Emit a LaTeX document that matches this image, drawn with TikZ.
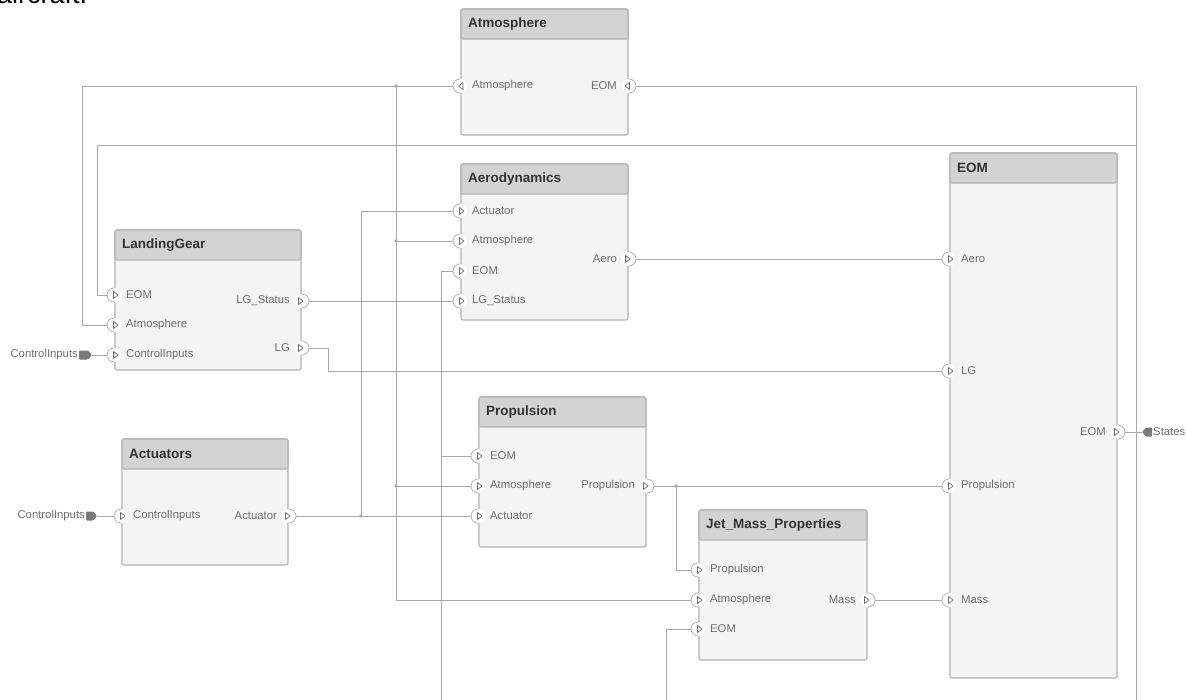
\documentclass[tikz,border=0pt]{standalone}
\usepackage{fontspec}
\setmainfont{Liberation Sans}
\usetikzlibrary{calc}
\definecolor{wirec}{HTML}{A8A8A8}
\definecolor{bordc}{HTML}{B2B2B2}
\definecolor{bodyc}{HTML}{F4F4F4}
\definecolor{headc}{HTML}{D3D3D3}
\definecolor{ttlc}{HTML}{333333}
\definecolor{lblc}{HTML}{6E6E6E}
\definecolor{markc}{HTML}{7A7A7A}
\tikzset{
  wire/.style={draw=wirec,line width=0.9pt},
  blockbody/.style={draw=bordc,fill=bodyc,line width=1.1pt,rounded corners=2pt,inner sep=0pt,outer sep=0pt,anchor=north west},
  blockhead/.style={draw=bordc,fill=headc,line width=1.1pt,rounded corners=2pt,inner sep=0pt,outer sep=0pt,anchor=north west,minimum height=30pt},
  blocktitle/.style={anchor=west,font=\fontsize{13.5}{14}\selectfont\bfseries,text=ttlc,inner sep=0pt},
  plabel/.style={font=\fontsize{11.3}{12}\selectfont,text=lblc,inner sep=0pt},
  jdot/.style={fill=wirec,draw=none},
  portarc/.style={draw=bordc,line width=0.8pt},
  porttri/.style={draw=lblc,line width=0.7pt,line join=round},
}
% block: name, title, x1, y1, x2, y2
\newcommand\myblock[6]{%
  \node[blockbody,minimum width={(#5-#3)*1pt},minimum height={(#6-#4)*1pt}] (#1) at (#3,#4) {};
  \node[blockhead,minimum width={(#5-#3)*1pt}] (#1-h) at (#3,#4) {};
  \node[blocktitle] (#1-t) at ($(#1-h.west)+(7,0)$) {#2};
}
% left-edge port with right-pointing triangle: coord, label
\newcommand\lport[2]{%
  \fill[white] ($(#1)+(-1,0)$) circle (7);
  \draw[portarc] ($(#1)+(-1,7)$) arc[start angle=90,end angle=270,radius=7];
  \draw[porttri] ($(#1)+(-1.5,-3.5)$) -- ($(#1)+(3,0)$) -- ($(#1)+(-1.5,3.5)$) -- cycle;
  \node[plabel,anchor=west] (#1-l) at ($(#1)+(11,0)$) {#2};
}
% right-edge port with right-pointing triangle
\newcommand\rport[2]{%
  \fill[white] ($(#1)+(1,0)$) circle (7);
  \draw[portarc] ($(#1)+(1,7)$) arc[start angle=90,end angle=-90,radius=7];
  \draw[porttri] ($(#1)+(-2.5,-3.5)$) -- ($(#1)+(2,0)$) -- ($(#1)+(-2.5,3.5)$) -- cycle;
  \node[plabel,anchor=east] (#1-l) at ($(#1)+(-11,0)$) {#2};
}
% left-edge port with left-pointing triangle
\newcommand\lportb[2]{%
  \fill[white] ($(#1)+(-1,0)$) circle (7);
  \draw[portarc] ($(#1)+(-1,7)$) arc[start angle=90,end angle=270,radius=7];
  \draw[porttri] ($(#1)+(2,-3.5)$) -- ($(#1)+(-2.5,0)$) -- ($(#1)+(2,3.5)$) -- cycle;
  \node[plabel,anchor=west] (#1-l) at ($(#1)+(11,0)$) {#2};
}
% right-edge port with left-pointing triangle
\newcommand\rportb[2]{%
  \fill[white] ($(#1)+(1,0)$) circle (7);
  \draw[portarc] ($(#1)+(1,7)$) arc[start angle=90,end angle=-90,radius=7];
  \draw[porttri] ($(#1)+(1.5,-3.5)$) -- ($(#1)+(-3,0)$) -- ($(#1)+(1.5,3.5)$) -- cycle;
  \node[plabel,anchor=east] (#1-l) at ($(#1)+(-11,0)$) {#2};
}
\begin{document}
\begin{tikzpicture}[x=1pt,y=-1pt]
\useasboundingbox (0,0) rectangle (1186,699);
\fill[white] (0,0) rectangle (1186,699);

% cut-off caption at the top
\node[anchor=base west,font=\fontsize{27}{27}\selectfont,inner sep=0pt] (cap) at (-3,3.5) {aircraft.};

% ---- port coordinates ----
\coordinate (atm-a) at (461,86);
\coordinate (atm-e) at (628,86);
\coordinate (aero-act) at (461,211);
\coordinate (aero-atm) at (461,241);
\coordinate (aero-eom) at (461,271);
\coordinate (aero-lgs) at (461,301);
\coordinate (aero-out) at (628,259);
\coordinate (lg-eom) at (115,295);
\coordinate (lg-atm) at (115,325);
\coordinate (lg-ci) at (115,355);
\coordinate (lg-st) at (301,301);
\coordinate (lg-lg) at (301,348);
\coordinate (act-ci) at (122,516);
\coordinate (act-out) at (288,516);
\coordinate (prop-eom) at (479,456);
\coordinate (prop-atm) at (479,486);
\coordinate (prop-act) at (479,516);
\coordinate (prop-out) at (646,486);
\coordinate (jm-prop) at (699,570);
\coordinate (jm-atm) at (699,600);
\coordinate (jm-eom) at (699,629);
\coordinate (jm-mass) at (867,600);
\coordinate (eom-aero) at (950,259);
\coordinate (eom-lg) at (950,371);
\coordinate (eom-prop) at (950,486);
\coordinate (eom-mass) at (950,600);
\coordinate (eom-out) at (1117,432);
\coordinate (ci1) at (92,355);
\coordinate (ci2) at (97,516);
\coordinate (states) at (1142,432);

% routing helpers
\coordinate (xL1) at (82,0);
\coordinate (xL2) at (97,0);
\coordinate (xA) at (396,86);
\coordinate (xAct) at (361,0);
\coordinate (xE) at (441,0);
\coordinate (xR) at (1136,0);
\coordinate (xP) at (676,0);
\coordinate (xJ) at (666,0);
\coordinate (xLG) at (328,0);
\coordinate (bot) at (0,705);
\coordinate (yT2) at (0,145);

% ---- wires ----
\draw[wire] (atm-a) -| (xL1 |- lg-atm) -- (lg-atm);
\draw[wire] (xA) -- (xA |- jm-atm) -- (jm-atm);
\draw[wire] (xA |- aero-atm) -- (aero-atm);
\draw[wire] (xA |- prop-atm) -- (prop-atm);
\draw[wire] (atm-e) -| (xR |- bot);
\draw[wire] (xR |- yT2) -| (xL2 |- lg-eom) -- (lg-eom);
\draw[wire] (aero-eom) -| (xE |- bot);
\draw[wire] (xE |- prop-eom) -- (prop-eom);
\draw[wire] (jm-eom) -| (xJ |- bot);
\draw[wire] (lg-st) -- (aero-lgs);
\draw[wire] (lg-lg) -| (xLG |- eom-lg) -- (eom-lg);
\draw[wire] (act-out) -- (prop-act);
\draw[wire] (xAct |- act-out) |- (aero-act);
\draw[wire] (aero-out) -- (eom-aero);
\draw[wire] (prop-out) -- (eom-prop);
\draw[wire] (xP |- prop-out) |- (jm-prop);
\draw[wire] (jm-mass) -- (eom-mass);
\draw[wire] (eom-out) -- (states);
\draw[wire] (ci1) -- (lg-ci);
\draw[wire] (ci2) -- (act-ci);

% junction dots
\fill[jdot] (xA) circle (1.8);
\fill[jdot] (xA |- aero-atm) circle (1.8);
\fill[jdot] (xA |- prop-atm) circle (1.8);
\fill[jdot] (xAct |- act-out) circle (1.8);
\fill[jdot] (xP |- prop-out) circle (1.8);

% ---- blocks ----
\myblock{atm}{Atmosphere}{461}{9}{628}{135}
\myblock{aero}{Aerodynamics}{461}{164}{628}{320}
\myblock{lg}{LandingGear}{115}{230}{301}{370}
\myblock{act}{Actuators}{122}{439}{288}{565}
\myblock{prop}{Propulsion}{479}{397}{646}{547}
\myblock{jm}{Jet\_Mass\_Properties}{699}{510}{867}{660}
\myblock{eom}{EOM}{950}{153}{1117}{678}

% ---- ports ----
\lportb{atm-a}{Atmosphere}
\rportb{atm-e}{EOM}
\lport{aero-act}{Actuator}
\lport{aero-atm}{Atmosphere}
\lport{aero-eom}{EOM}
\lport{aero-lgs}{LG\_Status}
\rport{aero-out}{Aero}
\lport{lg-eom}{EOM}
\lport{lg-atm}{Atmosphere}
\lport{lg-ci}{ControlInputs}
\rport{lg-st}{LG\_Status}
\rport{lg-lg}{LG}
\lport{act-ci}{ControlInputs}
\rport{act-out}{Actuator}
\lport{prop-eom}{EOM}
\lport{prop-atm}{Atmosphere}
\lport{prop-act}{Actuator}
\rport{prop-out}{Propulsion}
\lport{jm-prop}{Propulsion}
\lport{jm-atm}{Atmosphere}
\lport{jm-eom}{EOM}
\rport{jm-mass}{Mass}
\lport{eom-aero}{Aero}
\lport{eom-lg}{LG}
\lport{eom-prop}{Propulsion}
\lport{eom-mass}{Mass}
\rport{eom-out}{EOM}

% ---- root in/out ports ----
\fill[markc,rounded corners=1pt] ($(ci1)+(-13,-4.5)$) -- ($(ci1)+(-4,-4.5)$) -- (ci1) -- ($(ci1)+(-4,4.5)$) -- ($(ci1)+(-13,4.5)$) -- cycle;
\node[plabel,anchor=east] (ci1-l) at ($(ci1)+(-14,0)$) {ControlInputs};
\fill[markc,rounded corners=1pt] ($(ci2)+(-11,-4.5)$) -- ($(ci2)+(-4,-4.5)$) -- (ci2) -- ($(ci2)+(-4,4.5)$) -- ($(ci2)+(-11,4.5)$) -- cycle;
\node[plabel,anchor=east] (ci2-l) at ($(ci2)+(-12,0)$) {ControlInputs};
\fill[markc,rounded corners=1pt] (states) -- ($(states)+(4,-4.5)$) -- ($(states)+(10,-4.5)$) -- ($(states)+(10,4.5)$) -- ($(states)+(4,4.5)$) -- cycle;
\node[plabel,anchor=west] (states-l) at ($(states)+(11,0)$) {States};
\end{tikzpicture}
\end{document}
